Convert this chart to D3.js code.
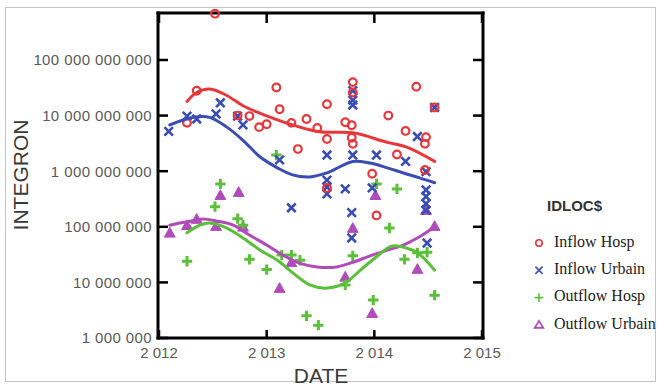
<!DOCTYPE html>
<html>
<head>
<meta charset="utf-8">
<script src="https://cdn.jsdelivr.net/npm/d3@7"></script>
<style>
  html, body { margin: 0; padding: 0; background: #fff; }
  svg { display: block; }
</style>
</head>
<body>
<svg id="chart" width="661" height="387" viewBox="0 0 661 387"></svg>
<script>
// Integron counts by sampling date and location (decimal year, copies)
const inflowHosp = [
  [2012.52, 6.8e11], [2012.35, 2.8e10], [2012.26, 7.4e9], [2012.73, 1.0e10], [2012.84, 9.8e9],
  [2012.93, 6.2e9], [2013.00, 7.0e9], [2013.09, 3.2e10], [2013.12, 1.3e10], [2013.23, 7.4e9],
  [2013.29, 2.5e9], [2013.37, 8.7e9], [2013.47, 6.0e9], [2013.56, 1.6e10], [2013.56, 3.8e9],
  [2013.56, 5.0e8], [2013.73, 7.6e9], [2013.79, 6.7e9], [2013.80, 4.0e10], [2013.80, 2.6e10],
  [2013.79, 4.0e9], [2013.80, 3.1e9], [2014.13, 1.0e10], [2014.39, 3.3e10], [2014.29, 5.3e9],
  [2014.48, 4.1e9], [2014.47, 3.1e9], [2014.21, 2.0e9], [2013.98, 9.0e8], [2014.02, 1.6e8],
  [2014.56, 1.4e10], [2014.47, 1.05e9]
];
const inflowUrbain = [
  [2012.09, 5.2e9], [2012.26, 9.8e9], [2012.35, 8.7e9], [2012.53, 1.07e10], [2012.57, 1.7e10],
  [2012.73, 9.8e9], [2012.78, 6.8e9], [2013.12, 1.6e9], [2013.23, 2.2e8], [2013.56, 1.95e9],
  [2013.56, 6.9e8], [2013.56, 5.2e8], [2013.56, 3.9e8], [2013.73, 4.8e8], [2013.79, 1.8e8],
  [2013.79, 6.3e7], [2013.80, 2.8e10], [2013.80, 1.9e10], [2013.80, 1.55e10], [2013.80, 1.95e9],
  [2013.98, 5.0e8], [2014.02, 1.95e9], [2014.29, 1.5e9], [2014.40, 4.2e9], [2014.48, 9.8e8],
  [2014.48, 4.6e8], [2014.48, 3.5e8], [2014.48, 2.6e8], [2014.48, 2.0e8], [2014.49, 5.1e7],
  [2014.56, 1.4e10]
];
const outflowHosp = [
  [2012.26, 2.4e7], [2012.52, 2.3e8], [2012.57, 5.9e8], [2012.73, 1.4e8], [2012.78, 1.07e8],
  [2012.84, 2.6e7], [2013.00, 1.7e7], [2013.09, 1.95e9], [2013.14, 3.1e7], [2013.23, 3.1e7],
  [2013.31, 2.5e7], [2013.37, 2.5e6], [2013.48, 1.7e6], [2013.73, 9.0e6], [2013.80, 3.0e7],
  [2013.99, 4.8e6], [2014.02, 5.9e8], [2014.14, 9.5e7], [2014.21, 4.8e8], [2014.28, 2.6e7],
  [2014.40, 3.4e7], [2014.49, 3.5e7], [2014.56, 5.9e6]
];
const outflowUrbain = [
  [2012.10, 7.8e7], [2012.26, 1.07e8], [2012.35, 1.38e8], [2012.53, 1.03e8], [2012.57, 3.7e8],
  [2012.74, 4.2e8], [2012.78, 1.0e8], [2013.12, 7.9e6], [2013.23, 2.3e7], [2013.73, 1.26e7],
  [2013.80, 9.5e7], [2013.98, 2.8e6], [2014.01, 3.7e8], [2014.40, 1.74e7], [2014.48, 2.0e8],
  [2014.56, 1.03e8]
];

// Smoothed trend per location
const trendInflowHosp = [
  [2012.26, 1.8e10], [2012.35, 2.6e10], [2012.47, 3.0e10], [2012.63, 2.3e10], [2012.78, 1.5e10],
  [2012.94, 1.1e10], [2013.24, 6.8e9], [2013.49, 5.1e9], [2013.80, 4.9e9], [2014.12, 3.3e9],
  [2014.30, 2.7e9], [2014.56, 1.5e9]
];
const trendInflowUrbain = [
  [2012.10, 6.8e9], [2012.32, 9.3e9], [2012.47, 9.3e9], [2012.63, 6.2e9], [2012.78, 3.6e9],
  [2012.94, 1.8e9], [2013.10, 1.15e9], [2013.24, 8.6e8], [2013.40, 7.9e8], [2013.56, 9.3e8],
  [2013.80, 1.5e9], [2013.96, 1.4e9], [2014.12, 1.15e9], [2014.27, 9.3e8], [2014.42, 7.6e8],
  [2014.56, 6.2e8]
];
const trendOutflowHosp = [
  [2012.26, 7.8e7], [2012.38, 1.07e8], [2012.47, 1.17e8], [2012.63, 9.5e7], [2012.78, 6.3e7],
  [2012.94, 3.8e7], [2013.10, 2.5e7], [2013.24, 1.5e7], [2013.40, 9.0e6], [2013.56, 7.9e6],
  [2013.73, 9.8e6], [2013.87, 1.66e7], [2014.02, 2.9e7], [2014.16, 4.5e7], [2014.27, 4.3e7],
  [2014.40, 3.4e7], [2014.56, 1.66e7]
];
const trendOutflowUrbain = [
  [2012.10, 1.07e8], [2012.26, 1.23e8], [2012.41, 1.38e8], [2012.54, 1.26e8], [2012.69, 1.07e8],
  [2012.84, 7.1e7], [2013.00, 4.7e7], [2013.15, 3.1e7], [2013.31, 2.2e7], [2013.47, 1.9e7],
  [2013.65, 1.9e7], [2013.80, 2.3e7], [2013.96, 3.0e7], [2014.12, 3.8e7], [2014.27, 4.7e7],
  [2014.42, 6.6e7], [2014.56, 1.0e8]
];

const legendLabels = ["Inflow Hosp", "Inflow Urbain", "Outflow Hosp", "Outflow Urbain"];
const xTickValues = [2012, 2013, 2014, 2015];
const xTickLabels = ["2 012", "2 013", "2 014", "2 015"];
const yTickValues = [1e6, 1e7, 1e8, 1e9, 1e10, 1e11];
const yTickLabels = ["1 000 000", "10 000 000", "100 000 000", "1 000 000 000", "10 000 000 000", "100 000 000 000"];

const colors = ["#e8363a", "#3a4db2", "#5cbf3a", "#b04cba"];
const shapes = ["circle", "cross", "plus", "triangle"];

const svg = d3.select("#chart");
const plot = { left: 158, right: 483, top: 13, bottom: 338 };

// Outer page border
svg.append("rect")
  .attr("x", 5.5).attr("y", 7.5).attr("width", 650).attr("height", 374)
  .attr("fill", "none").attr("stroke", "#c4c4c4").attr("stroke-width", 1);

const x = d3.scaleLinear().domain([2012, 2015]).range([plot.left + 1, plot.right - 1]);
const y = d3.scaleLog().domain([1e6, Math.pow(10, 11.845)]).range([plot.bottom, plot.top]);

// Plot frame drawn as four filled bars
const fw = 3;
const frame = svg.append("g").attr("class", "frame").attr("fill", "#000");
frame.append("rect").attr("x", plot.left - fw / 2).attr("y", plot.top - fw / 2)
  .attr("width", plot.right - plot.left + fw).attr("height", fw);
frame.append("rect").attr("x", plot.left - fw / 2).attr("y", plot.bottom - fw / 2)
  .attr("width", plot.right - plot.left + fw).attr("height", fw);
frame.append("rect").attr("x", plot.left - fw / 2).attr("y", plot.top - fw / 2)
  .attr("width", fw).attr("height", plot.bottom - plot.top + fw);
frame.append("rect").attr("x", plot.right - fw / 2).attr("y", plot.top - fw / 2)
  .attr("width", fw).attr("height", plot.bottom - plot.top + fw);

// Inward ticks on all four sides
const tickLen = 10, tw = 2.5;
const ticks = svg.append("g").attr("class", "ticks").attr("fill", "#000");
ticks.selectAll("rect.yl").data(yTickValues).join("rect").attr("class", "yl")
  .attr("x", plot.left).attr("y", d => y(d) - tw / 2).attr("width", tickLen).attr("height", tw);
ticks.selectAll("rect.yr").data(yTickValues).join("rect").attr("class", "yr")
  .attr("x", plot.right - tickLen).attr("y", d => y(d) - tw / 2).attr("width", tickLen).attr("height", tw);
ticks.selectAll("rect.xb").data(xTickValues).join("rect").attr("class", "xb")
  .attr("x", d => x(d) - tw / 2).attr("y", plot.bottom - tickLen + 2).attr("width", tw).attr("height", tickLen - 2);
ticks.selectAll("rect.xt").data(xTickValues).join("rect").attr("class", "xt")
  .attr("x", d => x(d) - tw / 2).attr("y", plot.top).attr("width", tw).attr("height", tickLen);

// Tick labels
svg.append("g").selectAll("text").data(yTickValues).join("text")
  .attr("x", plot.left - 6).attr("y", d => y(d)).attr("dy", "0.36em")
  .attr("text-anchor", "end")
  .attr("font-family", "Liberation Sans, Arial, sans-serif").attr("font-size", 15)
  .attr("letter-spacing", 0.4)
  .attr("fill", "#5a5a5a")
  .text((d, i) => yTickLabels[i]);

svg.append("g").selectAll("text").data(xTickValues).join("text")
  .attr("x", d => x(d)).attr("y", plot.bottom + 20)
  .attr("text-anchor", "middle")
  .attr("font-family", "Liberation Sans, Arial, sans-serif").attr("font-size", 15)
  .attr("fill", "#5a5a5a")
  .text((d, i) => xTickLabels[i]);

// Axis titles
svg.append("text")
  .attr("transform", "translate(28,175) rotate(-90)")
  .attr("text-anchor", "middle")
  .attr("font-family", "Liberation Sans, Arial, sans-serif").attr("font-size", 21)
  .attr("fill", "#3a3a3a")
  .text("INTEGRON");
svg.append("text")
  .attr("x", 321).attr("y", 383)
  .attr("text-anchor", "middle")
  .attr("font-family", "Liberation Sans, Arial, sans-serif").attr("font-size", 21)
  .attr("fill", "#3a3a3a")
  .text("DATE");

// Marker drawing
function drawMarker(g, shape, color, s) {
  if (shape === "circle") {
    g.append("circle").attr("r", s * 0.85).attr("fill", "none")
      .attr("stroke", color).attr("stroke-width", 2.2);
  } else if (shape === "cross") {
    const a = s * 0.95;
    g.append("path").attr("d", `M${-a},${-a}L${a},${a}M${-a},${a}L${a},${-a}`)
      .attr("stroke", color).attr("stroke-width", 2.6).attr("fill", "none");
  } else if (shape === "plus") {
    const a = s * 1.15;
    g.append("path").attr("d", `M${-a},0L${a},0M0,${-a}L0,${a}`)
      .attr("stroke", color).attr("stroke-width", 3).attr("fill", "none");
  } else {
    const a = s * 1.2;
    g.append("path").attr("d", `M0,${-a}L${a},${a * 0.8}L${-a},${a * 0.8}Z`)
      .attr("fill", color).attr("stroke", color).attr("stroke-width", 1);
  }
}

const seriesPoints = [inflowHosp, inflowUrbain, outflowHosp, outflowUrbain];
const seriesTrends = [trendInflowHosp, trendInflowUrbain, trendOutflowHosp, trendOutflowUrbain];

const line = d3.line().x(d => x(d[0])).y(d => y(d[1])).curve(d3.curveCatmullRom.alpha(0.5));

// Points first, then trend lines, last series on top
[3, 2, 1, 0].forEach(i => {
  const g = svg.append("g");
  g.selectAll("g.pt").data(seriesPoints[i]).join("g")
    .attr("class", "pt")
    .attr("transform", d => `translate(${x(d[0])},${y(d[1])})`)
    .each(function () { drawMarker(d3.select(this), shapes[i], colors[i], 4.5); });
});
[3, 2, 1, 0].forEach(i => {
  svg.append("path").datum(seriesTrends[i])
    .attr("d", line).attr("fill", "none")
    .attr("stroke", colors[i]).attr("stroke-width", 3).attr("stroke-linecap", "round");
});

// Legend
const legend = svg.append("g");
legend.append("text")
  .attr("x", 547).attr("y", 211)
  .attr("font-family", "Liberation Sans, Arial, sans-serif").attr("font-size", 15)
  .attr("font-weight", "bold").attr("fill", "#333")
  .text("IDLOC$");
legendLabels.forEach((lab, i) => {
  const cy = 243 + i * 27.3;
  const g = legend.append("g").attr("transform", `translate(539,${cy})`);
  if (shapes[i] === "triangle") {
    g.append("path").attr("d", "M0,-4L4.2,3L-4.2,3Z")
      .attr("fill", "none").attr("stroke", colors[i]).attr("stroke-width", 1.8);
  } else {
    drawMarker(g, shapes[i], colors[i], 3.8);
    g.selectAll("path,circle").attr("stroke-width", 1.6);
  }
  legend.append("text")
    .attr("x", 554).attr("y", cy - 2).attr("dy", "0.35em")
    .attr("font-family", "Liberation Serif, Times New Roman, serif").attr("font-size", 16)
    .attr("fill", "#222")
    .text(lab);
});
</script>
</body>
</html>
